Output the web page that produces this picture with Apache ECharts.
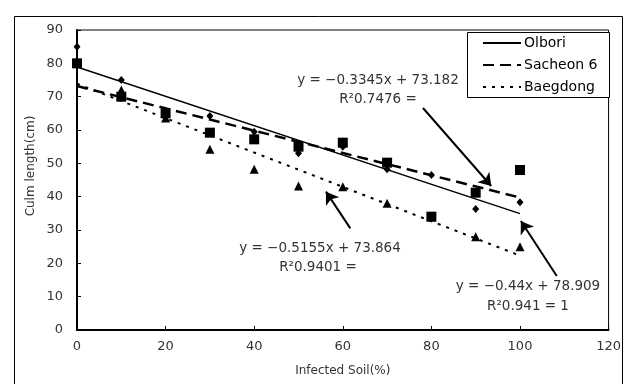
<!DOCTYPE html>
<html>
<head>
<meta charset="utf-8">
<script src="https://cdn.jsdelivr.net/npm/echarts@6/dist/echarts.min.js"></script>
<style>
html,body{margin:0;padding:0;background:#fff;}
#c{width:624px;height:384px;}
</style>
</head>
<body>
<div id="c"></div>
<script>
// ---- data ----
var xValues = [0, 10, 20, 30, 40, 50, 60, 70, 80, 90, 100];
var olbori   = [85, 75, 65, 64.2, 59.5, 53, 55, 48.2, 46.5, 36.3, 38.3];
var sacheon6 = [80, 70, 65, 59.2, 57.2, 55, 56.2, 50.2, 34, 41.2, 48];
var baegdong = [80, 72, 63.6, 54.2, 48.2, 43.2, 43, 38, 34, 28, 25];
var seriesNames = ['Olbori', 'Sacheon 6', 'Baegdong'];
// trendline equations (slope, intercept) as printed on the chart
var trendSlopes = [-0.44, -0.3345, -0.5155];
var trendIntercepts = [78.909, 73.182, 73.864];
var trendRange = [0, 100];
var xTicks = {min: 0, max: 120, interval: 20};
var yTicks = {min: 0, max: 90, interval: 10};
// annotation arrows [from, to] in data coordinates
var arrows = [
  [[78.1, 66.6], [93.5, 43.2]],
  [[61.7, 30.5], [56.2, 41.5]],
  [[108.3, 16.2], [100.2, 32.7]]
];

function pairs(ys) { return xValues.map(function (x, i) { return [x, ys[i]]; }); }
function trend(k) {
  return trendRange.map(function (x) { return [x, trendSlopes[k] * x + trendIntercepts[k]]; });
}

var FONT = 'DejaVu Sans';
var TXT = '#333';
var chart = echarts.init(document.getElementById('c'), null, {renderer: 'canvas'});

var lineStyles = [
  {color: '#000', width: 1.5, type: 'solid'},
  {color: '#000', width: 2.5, type: [11, 6]},
  {color: '#000', width: 2, type: [3, 6]}
];

var option = {
  animation: false,
  backgroundColor: '#fff',
  textStyle: {fontFamily: FONT},
  grid: {left: 77, top: 30, width: 535, height: 300, show: true, borderColor: '#000', borderWidth: 1, backgroundColor: 'transparent'},
  legend: {
    data: seriesNames,
    orient: 'vertical', left: 477, top: 31,
    itemWidth: 38, itemHeight: 14, itemGap: 8,
    itemStyle: {opacity: 0},
    textStyle: {fontFamily: FONT, fontSize: 14, color: '#000', padding: [0, 0, 0, -2]},
    selectedMode: false, z: 10
  },
  xAxis: {
    type: 'value', min: xTicks.min, max: xTicks.max, interval: xTicks.interval,
    name: 'Infected Soil(%)', nameLocation: 'middle', nameGap: 35,
    nameTextStyle: {fontFamily: FONT, fontSize: 12, color: TXT},
    axisLine: {lineStyle: {color: '#000', width: 2}},
    axisTick: {inside: true, length: 4, lineStyle: {color: '#000', width: 1}},
    axisLabel: {fontFamily: FONT, fontSize: 13, color: TXT, margin: 10},
    splitLine: {show: false}
  },
  yAxis: {
    type: 'value', min: yTicks.min, max: yTicks.max, interval: yTicks.interval,
    axisLine: {show: true, lineStyle: {color: '#000', width: 2}},
    axisTick: {show: true, inside: true, length: 4, lineStyle: {color: '#000', width: 1}},
    axisLabel: {fontFamily: FONT, fontSize: 13, color: TXT, margin: 14},
    splitLine: {show: false}
  },
  series: [
    {name: 'pts-baegdong', type: 'scatter', symbol: 'triangle', symbolSize: [9, 9], itemStyle: {color: '#000', opacity: 1}, data: pairs(baegdong), z: 3},
    {name: 'pts-sacheon', type: 'scatter', symbol: 'rect', symbolSize: 10, itemStyle: {color: '#000', opacity: 1}, data: pairs(sacheon6), z: 3},
    {name: 'pts-olbori', type: 'scatter', symbol: 'diamond', symbolSize: [7, 8], itemStyle: {color: '#000', opacity: 1}, data: pairs(olbori), z: 3},
    {name: seriesNames[0], type: 'line', data: trend(0), symbol: 'none', showSymbol: false, lineStyle: lineStyles[0], itemStyle: {color: '#000'}, z: 4},
    {name: seriesNames[1], type: 'line', data: trend(1), symbol: 'none', showSymbol: false, lineStyle: lineStyles[1], itemStyle: {color: '#000'}, z: 4},
    {name: seriesNames[2], type: 'line', data: trend(2), symbol: 'none', showSymbol: false, lineStyle: lineStyles[2], itemStyle: {color: '#000'}, z: 4,
     markLine: {
       silent: true, symbol: ['none', 'arrow'], symbolSize: 12,
       lineStyle: {color: '#000', width: 2, type: 'solid'},
       label: {show: false},
       data: arrows.map(function (a) { return [{coord: a[0]}, {coord: a[1]}]; })
     }}
  ],
  graphic: [
    {type: 'rect', left: 12, top: 14, shape: {width: 608, height: 400}, style: {fill: 'none', stroke: '#000', lineWidth: 1}, silent: true},
    {type: 'rect', left: 467, top: 32, shape: {width: 142, height: 65}, style: {fill: '#fff', stroke: '#000', lineWidth: 1}, z: 1, silent: true},
    {type: 'text', x: 31, y: 166, rotation: Math.PI / 2, style: {text: 'Culm length(cm)', font: '12px "DejaVu Sans"', fill: TXT, align: 'center', verticalAlign: 'middle'}},
    {type: 'text', x: 378, y: 80, style: {text: 'y = −0.3345x + 73.182', font: '13.5px "DejaVu Sans"', fill: TXT, align: 'center', verticalAlign: 'middle'}},
    {type: 'text', x: 378, y: 99, style: {text: 'R²0.7476 =', font: '13.5px "DejaVu Sans"', fill: TXT, align: 'center', verticalAlign: 'middle'}},
    {type: 'text', x: 320, y: 248, style: {text: 'y = −0.5155x + 73.864', font: '13.5px "DejaVu Sans"', fill: TXT, align: 'center', verticalAlign: 'middle'}},
    {type: 'text', x: 318, y: 267, style: {text: 'R²0.9401 =', font: '13.5px "DejaVu Sans"', fill: TXT, align: 'center', verticalAlign: 'middle'}},
    {type: 'text', x: 528, y: 286, style: {text: 'y = −0.44x + 78.909', font: '13.5px "DejaVu Sans"', fill: TXT, align: 'center', verticalAlign: 'middle'}},
    {type: 'text', x: 528, y: 306, style: {text: 'R²0.941 = 1', font: '13.5px "DejaVu Sans"', fill: TXT, align: 'center', verticalAlign: 'middle'}}
  ]
};
chart.setOption(option);
</script>
</body>
</html>
